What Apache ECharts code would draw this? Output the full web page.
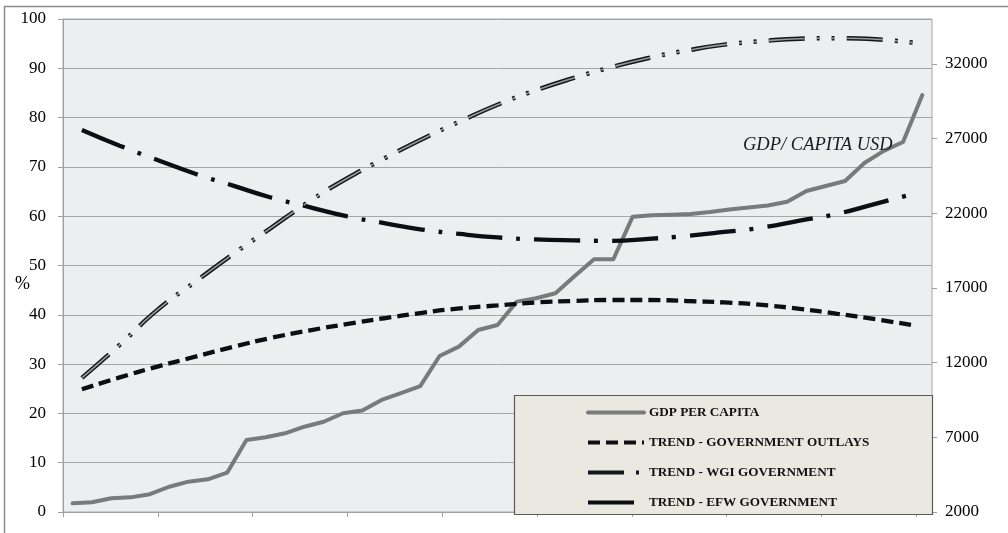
<!DOCTYPE html>
<html>
<head>
<meta charset="utf-8">
<script src="https://cdn.jsdelivr.net/npm/echarts@6/dist/echarts.min.js"></script>
<style>
html,body{margin:0;padding:0;background:#fff;}
#chart{width:1008px;height:533px;}
</style>
</head>
<body>
<div id="chart"></div>
<script>
// GDP per capita (USD) – 45 observations, right axis
const gdpCategories = ["1","2","3","4","5","6","7","8","9","10","11","12","13","14","15","16","17","18","19","20","21","22","23","24","25","26","27","28","29","30","31","32","33","34","35","36","37","38","39","40","41","42","43","44","45"];
const gdpPerCapita = [2580,2650,2920,2980,3190,3690,4030,4190,4630,6820,7000,7270,7710,8040,8610,8800,9500,9950,10430,12440,13070,14180,14520,16080,16310,16640,17800,18920,18920,21770,21860,21900,21950,22080,22250,22380,22520,22770,23490,23820,24160,25360,26170,26770,29910];

// Trend series (%) – 23 points, left axis
const trendCategories = ["1","2","3","4","5","6","7","8","9","10","11","12","13","14","15","16","17","18","19","20","21","22","23"];
const trendOutlays = [24.9,27.3,29.5,31.5,33.5,35.3,36.8,38.1,39.3,40.4,41.3,41.9,42.5,42.8,43.0,43.0,42.8,42.5,42.0,41.2,40.2,39.1,37.9];
const trendWGI = [27.2,33.9,41.0,46.7,52.3,57.6,62.9,67.6,71.7,75.6,79.2,82.6,85.5,88.0,90.2,92.1,93.6,94.8,95.5,96.0,96.1,95.9,95.2];
const trendEFW = [77.5,74.3,71.4,68.6,66.2,63.8,61.9,60.0,58.6,57.3,56.4,55.7,55.3,55.1,55.0,55.4,56.0,56.8,57.7,59.1,60.5,62.5,64.5];

// Axis ticks
const leftTicks = [0,10,20,30,40,50,60,70,80,90,100];
const rightTicks = [2000,7000,12000,17000,22000,27000,32000];
const xTickPositions = [0,6,12,18,24,30,36,42,48,54];

const seriesNames = ["GDP PER CAPITA","TREND - GOVERNMENT OUTLAYS","TREND - WGI GOVERNMENT","TREND - EFW GOVERNMENT"];

const serif = "Liberation Serif";
const chart = echarts.init(document.getElementById('chart'));

chart.setOption({
  animation: false,
  backgroundColor: '#ffffff',
  grid: {
    left: 63, top: 19, right: 76, bottom: 21,
    show: true, backgroundColor: '#EDEEF0', borderColor: '#A8A8A8', borderWidth: 1
  },
  legend: {
    data: seriesNames,
    orient: 'vertical',
    left: 581, top: 401,
    itemWidth: 56, itemHeight: 14, itemGap: 17,
    z: 6,
    itemStyle: { opacity: 0 },
    lineStyle: { width: 4 },
    textStyle: { fontFamily: serif, fontWeight: 'bold', fontSize: 13.2, color: '#111' }
  },
  xAxis: [
    {
      type: 'value', min: 0, max: 55, position: 'bottom',
      axisLine: { show: true, lineStyle: { color: '#A0A0A0' } },
      axisTick: { show: true, length: 5, lineStyle: { color: '#A0A0A0' }, customValues: xTickPositions },
      axisLabel: { show: false },
      splitLine: { show: false }
    },
    { type: 'category', data: gdpCategories, boundaryGap: true, show: false, gridIndex: 0 },
    { type: 'category', data: trendCategories, boundaryGap: true, show: false, gridIndex: 0 }
  ],
  yAxis: [
    {
      type: 'value', min: 0, max: 100, interval: 10, position: 'left',
      axisLine: { show: true, lineStyle: { color: '#A0A0A0' } },
      axisTick: { show: true, length: 5, lineStyle: { color: '#A0A0A0' } },
      axisLabel: { fontFamily: serif, fontSize: 17, color: '#000', margin: 17,
        customValues: leftTicks },
      splitLine: { show: true, lineStyle: { color: '#A6A6A6', width: 1 } }
    },
    {
      type: 'value', min: 2000, max: 35000, position: 'right', alignTicks: false,
      axisLine: { show: false },
      axisTick: { show: true, length: 5, lineStyle: { color: '#A0A0A0' }, customValues: rightTicks },
      axisLabel: { fontFamily: serif, fontSize: 17, color: '#000', margin: 13, customValues: rightTicks,
        formatter: function (v) { return String(v); } },
      splitLine: { show: false }
    }
  ],
  graphic: [
    { type: 'rect', z: 100, silent: true,
      shape: { x: 4.5, y: 6.5, width: 1100, height: 600 },
      style: { fill: 'none', stroke: '#8C8C8C', lineWidth: 1.5 } },
    { type: 'rect', z: 5, silent: true,
      shape: { x: 514.5, y: 395.5, width: 418, height: 119 },
      style: { fill: '#E9E9E2', stroke: '#5A5A5A', lineWidth: 1.2 } },
    { type: 'text', z: 6, silent: true, x: 743, y: 145,
      style: { text: 'GDP/ CAPITA USD', fontFamily: serif, fontStyle: 'italic', fontSize: 18.5,
        fill: '#1A1A22', textVerticalAlign: 'middle', textAlign: 'left' } },
    { type: 'text', z: 6, silent: true, x: 15, y: 284,
      style: { text: '%', fontFamily: serif, fontSize: 18, fill: '#000',
        textVerticalAlign: 'middle', textAlign: 'left' } }
  ],
  series: [
    {
      name: seriesNames[0], type: 'line', xAxisIndex: 1, yAxisIndex: 1,
      data: gdpPerCapita, symbol: 'none', z: 3,
      lineStyle: { color: '#7A7A7A', width: 4, cap: 'round', join: 'round' },
      itemStyle: { color: '#7A7A7A' }
    },
    {
      name: seriesNames[1], type: 'line', xAxisIndex: 2, yAxisIndex: 0,
      data: trendOutlays, symbol: 'none', smooth: true, z: 3,
      lineStyle: { color: '#0D0D14', width: 4.3, type: [12, 6], cap: 'butt' },
      itemStyle: { color: '#0D0D14' }
    },
    {
      name: seriesNames[2], type: 'line', xAxisIndex: 2, yAxisIndex: 0,
      data: trendWGI, symbol: 'none', smooth: true, z: 3,
      lineStyle: { color: '#15151C', width: 4.5, type: [36, 12, 3, 12, 3, 12], cap: 'butt' },
      itemStyle: { color: '#15151C' }
    },
    {
      name: seriesNames[2], type: 'line', xAxisIndex: 2, yAxisIndex: 0,
      data: trendWGI, symbol: 'none', smooth: true, z: 4,
      lineStyle: { color: '#9A9A9A', width: 1.6, type: [36, 12, 3, 12, 3, 12], cap: 'butt' },
      itemStyle: { color: '#9A9A9A' }
    },
    {
      name: seriesNames[3], type: 'line', xAxisIndex: 2, yAxisIndex: 0,
      data: trendEFW, symbol: 'none', smooth: true, z: 3,
      lineStyle: { color: '#0D0D14', width: 4.3, type: [46, 14, 4, 14], cap: 'butt' },
      itemStyle: { color: '#0D0D14' }
    }
  ]
});
</script>
</body>
</html>
